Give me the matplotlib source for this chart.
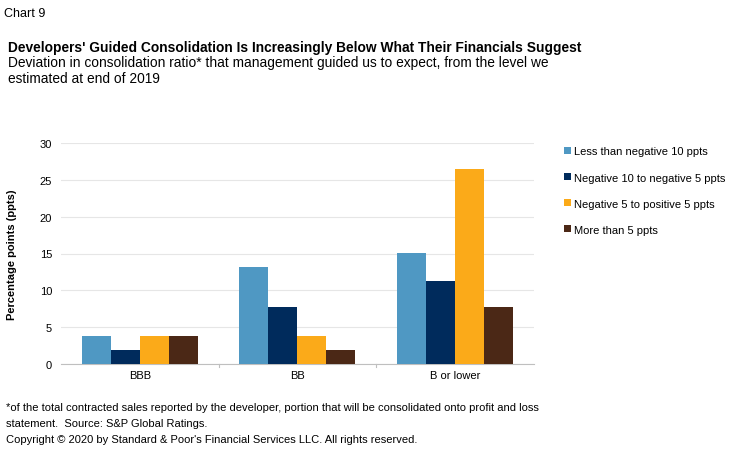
import matplotlib
matplotlib.use("Agg")
import matplotlib.pyplot as plt
import numpy as np

plt.rcParams['font.family'] = ['Liberation Sans', 'DejaVu Sans']

categories = ["BBB", "BB", "B or lower"]
series_names = ["Less than negative 10 ppts", "Negative 10 to negative 5 ppts",
                "Negative 5 to positive 5 ppts", "More than 5 ppts"]
less_than_neg10 = [3.85, 13.2, 15.1]
neg10_to_neg5 = [1.92, 7.7, 11.3]
neg5_to_pos5 = [3.85, 3.85, 26.5]
more_than_5 = [3.85, 1.92, 7.7]
yticks = [0, 5, 10, 15, 20, 25, 30]

colors = ["#4F98C3", "#002B5C", "#FBAA19", "#4B2816"]
series = [less_than_neg10, neg10_to_neg5, neg5_to_pos5, more_than_5]

W, H = 731, 456
fig = plt.figure(figsize=(W/100, H/100), dpi=100)
x0, x1, ytop, ybot = 61, 533.5, 144, 365
ax = fig.add_axes([x0/W, 1-ybot/H, (x1-x0)/W, (ybot-ytop)/H])

x = np.arange(len(categories))
w = 0.184
for i, (vals, c, name) in enumerate(zip(series, colors, series_names)):
    ax.bar(x + (i - 1.5) * w, vals, width=w, color=c, label=name, zorder=3)

ax.set_xlim(-0.5, 2.5)
ax.set_ylim(0, 30)
ax.set_yticks(yticks)
ax.set_xticks(x)
ax.set_xticklabels(categories, fontsize=8)
ax.tick_params(axis='y', labelsize=8, length=0, pad=6.5)
ax.tick_params(axis='x', length=0, pad=4)
ax.grid(axis='y', color='#E6E6E6', linewidth=0.8, zorder=0)
for s in ['top', 'right', 'left']:
    ax.spines[s].set_visible(False)
ax.spines['bottom'].set_color('#BFBFBF')
for b in [0.5, 1.5]:
    ax.plot([b, b], [0, -0.4], color='#BFBFBF', lw=0.8, clip_on=False)
ax.set_ylabel("Percentage points (ppts)", fontsize=8, fontweight='bold')
ax.yaxis.set_label_coords((17 - x0) / (x1 - x0), 0.5)

handles, labels = ax.get_legend_handles_labels()
leg = fig.legend(handles, labels, loc='upper left', bbox_to_anchor=(560/W, 1-143/H),
                 frameon=False, fontsize=8, handlelength=0.6, handleheight=0.6,
                 handletextpad=0.3, labelspacing=1.45, borderaxespad=0)

fig.text(4/W, 1-14/H, "Chart 9", fontsize=9, va='center', ha='left')
fig.text(8/W, 1-48/H, "Developers' Guided Consolidation Is Increasingly Below What Their Financials Suggest",
         fontsize=9.9, fontweight='bold', va='center', ha='left')
fig.text(8/W, 1-63/H, "Deviation in consolidation ratio* that management guided us to expect, from the level we",
         fontsize=9.9, va='center', ha='left')
fig.text(8/W, 1-79.5/H, "estimated at end of 2019", fontsize=9.9, va='center', ha='left')
fig.text(6/W, 1-408/H, "*of the total contracted sales reported by the developer, portion that will be consolidated onto profit and loss",
         fontsize=8, va='center', ha='left')
fig.text(6/W, 1-424/H, "statement.  Source: S&P Global Ratings.", fontsize=8, va='center', ha='left')
fig.text(6/W, 1-440/H, "Copyright \u00a9 2020 by Standard & Poor's Financial Services LLC. All rights reserved.",
         fontsize=8, va='center', ha='left')

fig.savefig("out.png", dpi=100)
